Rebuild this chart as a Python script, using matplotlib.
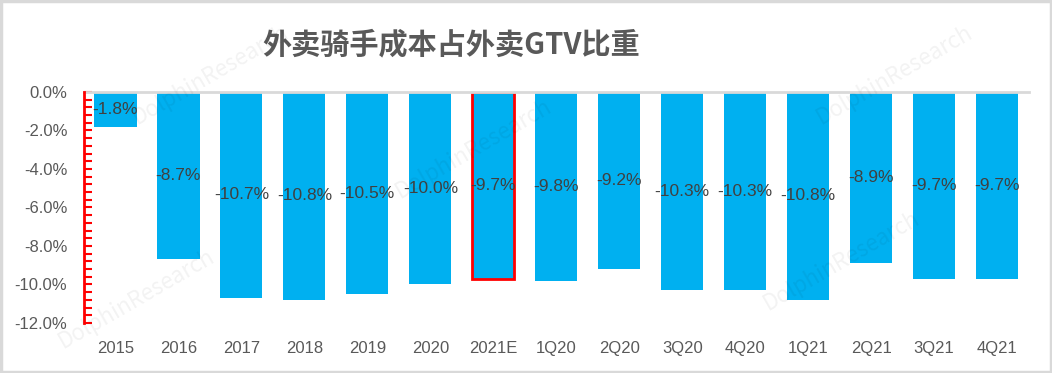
import numpy as np
import matplotlib.pyplot as plt
from matplotlib.ticker import MultipleLocator, FuncFormatter
from matplotlib.patches import Rectangle

plt.rcParams['font.family'] = ['Noto Sans CJK SC', 'DejaVu Sans']

categories = ["2015", "2016", "2017", "2018", "2019", "2020", "2021E",
              "1Q20", "2Q20", "3Q20", "4Q20", "1Q21", "2Q21", "3Q21", "4Q21"]
ratio = [-1.8, -8.7, -10.7, -10.8, -10.5, -10.0, -9.7,
         -9.8, -9.2, -10.3, -10.3, -10.8, -8.9, -9.7, -9.7]
highlight = "2021E"

fig = plt.figure(figsize=(10.52, 3.73), dpi=100)
ax = fig.add_axes([0.0798, 0.134, 0.898, 0.6196])

x = np.arange(len(categories))
edges = ["#FF0000" if c == highlight else "none" for c in categories]
bars = ax.bar(x, ratio, width=0.67, color="#00B0F0", edgecolor=edges, linewidth=2)

for xi, v in zip(x, ratio):
    ax.text(xi, v / 2, f"{v:.1f}%", ha="center", va="center",
            fontsize=12.5, color="#404040", family=["Liberation Sans", "DejaVu Sans"])

ax.set_xlim(-0.5, len(categories) - 0.5)
ax.set_ylim(-12, 0)
ax.yaxis.set_major_locator(MultipleLocator(2))
ax.yaxis.set_minor_locator(MultipleLocator(0.4))
ax.yaxis.set_major_formatter(FuncFormatter(lambda v, p: f"{v:.1f}%"))
ax.tick_params(axis="y", which="both", direction="in", length=6, width=1.5,
               color="#FF0000", labelsize=12, labelcolor="#595959", pad=12)
ax.set_xticks(x)
ax.set_xticklabels(categories)
ax.tick_params(axis="x", length=0, labelsize=12, labelcolor="#595959", pad=13)
for lbl in ax.get_xticklabels() + ax.get_yticklabels():
    lbl.set_family(["Liberation Sans", "DejaVu Sans"])

for s in ["right", "bottom"]:
    ax.spines[s].set_visible(False)
ax.spines["left"].set_color("#FF0000")
ax.spines["left"].set_linewidth(2)
ax.spines["top"].set_color("#D9D9D9")
ax.spines["top"].set_linewidth(2)
ax.spines["left"].set_zorder(5)

fig.text(0.429, 0.88, "外卖骑手成本占外卖GTV比重", ha="center", va="center",
         fontsize=21, fontweight="bold", color="#595959")

# faint watermarks
for wx, wy in [(0.2, 0.8), (0.45, 0.6), (0.8, 0.3), (0.85, 0.8), (0.13, 0.2)]:
    fig.text(wx, wy, "DolphinResearch", fontsize=16, color="#000000", alpha=0.05,
             rotation=30, ha="center", va="center")

fig.patches.append(Rectangle((0.001, 0.002), 0.998, 0.996, transform=fig.transFigure,
                             fill=False, edgecolor="#D9D9D9", linewidth=2.5))

fig.savefig("out.png", dpi=100)
